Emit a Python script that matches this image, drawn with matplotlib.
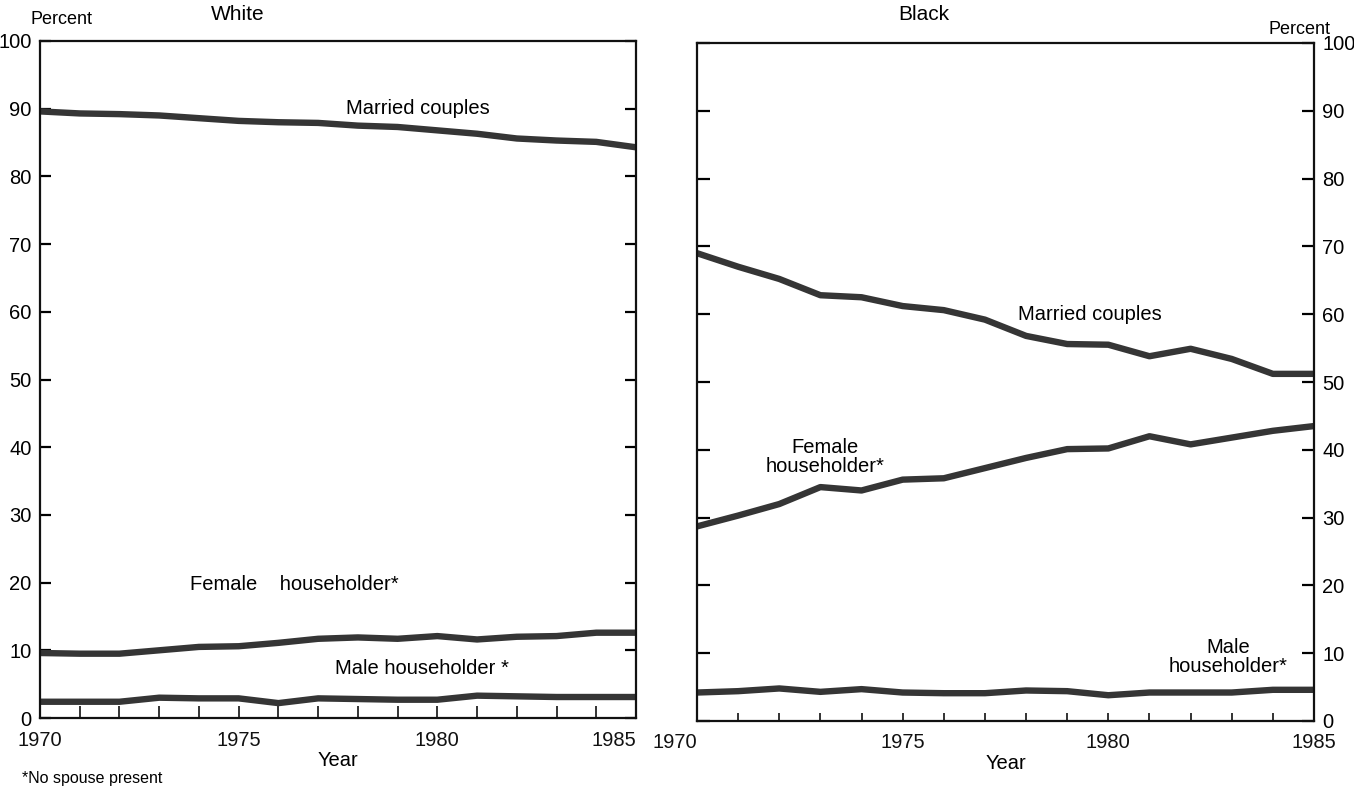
import matplotlib
matplotlib.use("Agg")
import matplotlib.pyplot as plt

plt.rcParams['font.family'] = ['Liberation Sans', 'DejaVu Sans']

years = list(range(1970, 1986))

white_married = [89.6, 89.3, 89.2, 89.0, 88.6, 88.2, 88.0, 87.9, 87.5, 87.3, 86.8, 86.3, 85.6, 85.3, 85.1, 84.3]
white_female = [9.6, 9.5, 9.5, 10.0, 10.5, 10.6, 11.1, 11.7, 11.9, 11.7, 12.1, 11.6, 12.0, 12.1, 12.6, 12.6]
white_male = [2.4, 2.4, 2.4, 3.0, 2.9, 2.9, 2.2, 2.9, 2.8, 2.7, 2.7, 3.3, 3.2, 3.1, 3.1, 3.1]

black_married = [69.0, 67.0, 65.2, 62.8, 62.5, 61.2, 60.6, 59.2, 56.8, 55.6, 55.5, 53.8, 54.9, 53.4, 51.2, 51.2]
black_female = [28.7, 30.3, 32.0, 34.5, 34.0, 35.6, 35.8, 37.3, 38.8, 40.1, 40.2, 42.0, 40.8, 41.8, 42.8, 43.5]
black_male = [4.2, 4.4, 4.8, 4.3, 4.7, 4.2, 4.1, 4.1, 4.5, 4.4, 3.8, 4.2, 4.2, 4.2, 4.6, 4.6]

y_ticks = list(range(0, 101, 10))
x_major = [1970, 1975, 1980, 1985]
x_labels = ['1970', '1975', '1980', '1985']

W, H = 1354, 787
fig = plt.figure(figsize=(W / 100, H / 100), dpi=100)
fig.patch.set_facecolor('white')

FS_TICK = 14.5
FS_TEXT = 14.5
FS_TITLE = 15.0
FS_PCT = 13.0


def px_axes(x0, x1, ytop, ybot):
    return fig.add_axes([x0 / W, (H - ybot) / H, (x1 - x0) / W, (ybot - ytop) / H])


axL = px_axes(40, 636, 41, 718)
axR = px_axes(697, 1314, 43, 721)

LINE_COLOR = '#353535'
LW = 4.6

for ax, series in ((axL, (white_married, white_female, white_male)),
                   (axR, (black_married, black_female, black_male))):
    for s in series:
        ax.plot(years, s, color=LINE_COLOR, lw=LW, solid_capstyle='butt',
                solid_joinstyle='round', clip_on=False)
    ax.set_xlim(1970, 1985)
    ax.set_ylim(0, 100)
    ax.set_yticks(y_ticks)
    ax.set_xticks(x_major)
    ax.set_xticks(years, minor=True)
    ax.set_xticklabels(x_labels, fontsize=FS_TICK)
    for sp in ax.spines.values():
        sp.set_linewidth(1.6)
        sp.set_color('#111111')
    ax.tick_params(axis='x', which='both', direction='in', length=9, width=1.2,
                   bottom=True, top=False, pad=9, colors='#111111')
    ax.set_xlabel('Year', fontsize=FS_TICK, labelpad=1)

axL.tick_params(axis='y', which='major', direction='in', length=8, width=1.6,
                left=True, right=True, labelleft=True, labelright=False,
                labelsize=FS_TICK, pad=6)
axR.tick_params(axis='y', which='major', direction='in', length=9, width=1.6,
                left=True, right=True, labelleft=False, labelright=True,
                labelsize=FS_TICK, pad=6)
axR.tick_params(axis='x', which='both', length=6)

labsL = axL.get_xticklabels()
labsL[0].set_horizontalalignment('center')
labsL[-1].set_horizontalalignment('right')
labsR = axR.get_xticklabels()
labsR[0].set_horizontalalignment('right')


def ftext(x, y, s, **kw):
    fig.text(x / W, (H - y) / H, s, **kw)


ftext(30, 20, 'Percent', fontsize=FS_PCT, ha='left', va='center')
ftext(238, 15, 'White', fontsize=FS_TITLE, ha='center', va='center')
ftext(924, 15, 'Black', fontsize=FS_TITLE, ha='center', va='center')
ftext(1300, 29, 'Percent', fontsize=FS_PCT, ha='center', va='center')

ftext(418, 108, 'Married couples', fontsize=FS_TEXT, ha='center', va='center')
ftext(294, 584, 'Female    householder*', fontsize=FS_TEXT, ha='center', va='center')
ftext(422, 669, 'Male householder *', fontsize=FS_TEXT, ha='center', va='center')

ftext(1090, 315, 'Married couples', fontsize=FS_TEXT, ha='center', va='center')
ftext(825, 457, 'Female\nhouseholder*', fontsize=FS_TEXT, ha='center', va='center',
      linespacing=1.0)
ftext(1228, 657, 'Male\nhouseholder*', fontsize=FS_TEXT, ha='center', va='center',
      linespacing=1.0)

ftext(22, 786, '*No spouse present', fontsize=11.5, ha='left', va='bottom')

fig.savefig('out.png', dpi=100, facecolor='white')
